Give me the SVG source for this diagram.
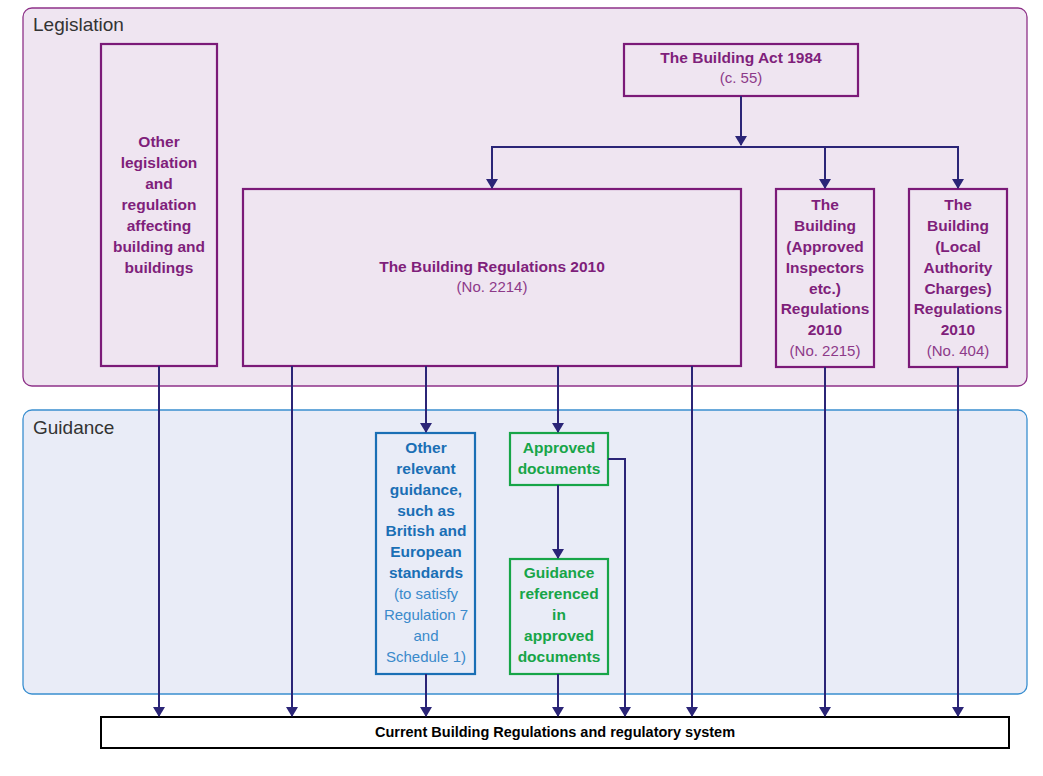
<svg xmlns="http://www.w3.org/2000/svg" width="1043" height="776" viewBox="0 0 1043 776">
<defs>
<marker id="ah" markerWidth="10" markerHeight="12" refX="9" refY="6" orient="auto" markerUnits="userSpaceOnUse"><path d="M0,0 L10,6 L0,12 Z" fill="#2b2577"/></marker>
<style>
text{font-family:"Liberation Sans",Arial,sans-serif;text-anchor:middle}
.p{fill:#7f1f7b;font-weight:bold;font-size:15.5px}
.pl{fill:#8d3a89;font-size:15px}
.pb{fill:none;stroke:#7b1a78;stroke-width:2.2}
.b{fill:#1a6fb5;font-weight:bold;font-size:15.5px}
.bl{fill:#3a8acb;font-size:15px}
.g{fill:#17a548;font-weight:bold;font-size:15.5px}
.c path{fill:none;stroke:#2b2577;stroke-width:2;marker-end:url(#ah)}
.t{font-size:19px;fill:#333;text-anchor:start}
</style>
</defs>
<rect width="1043" height="776" fill="#fff"/>
<g id="legislation"><rect x="23" y="8" width="1004" height="378" rx="9" fill="#efe5f1" stroke="#8e3289" stroke-width="1.3"/><text class="t" x="33" y="31">Legislation</text></g>
<g id="guidance"><rect x="23" y="410" width="1004" height="284" rx="9" fill="#e9ecf7" stroke="#3a8fd0" stroke-width="1.3"/><text class="t" x="33" y="434">Guidance</text></g>
<g id="act"><rect class="pb" x="624" y="44" width="234" height="52" fill="#efe5f1"/><text class="p" x="741" y="63">The Building Act 1984</text><text class="pl" x="741" y="83">(c. 55)</text></g>
<g id="other"><rect class="pb" x="101" y="44" width="116" height="322"/><text class="p" x="159" y="147">Other</text><text class="p" x="159" y="168">legislation</text><text class="p" x="159" y="189">and</text><text class="p" x="159" y="210">regulation</text><text class="p" x="159" y="231">affecting</text><text class="p" x="159" y="252">building and</text><text class="p" x="159" y="273">buildings</text></g>
<g id="regs"><rect class="pb" x="243" y="189" width="498" height="177"/><text class="p" x="492" y="272">The Building Regulations 2010</text><text class="pl" x="492" y="292">(No. 2214)</text></g>
<g id="ai"><rect class="pb" x="776" y="189" width="98" height="178"/><text class="p" x="825" y="210">The</text><text class="p" x="825" y="231">Building</text><text class="p" x="825" y="252">(Approved</text><text class="p" x="825" y="273">Inspectors</text><text class="p" x="825" y="294">etc.)</text><text class="p" x="825" y="314">Regulations</text><text class="p" x="825" y="335">2010</text><text class="pl" x="825" y="356">(No. 2215)</text></g>
<g id="la"><rect class="pb" x="909" y="189" width="98" height="178"/><text class="p" x="958" y="210">The</text><text class="p" x="958" y="231">Building</text><text class="p" x="958" y="252">(Local</text><text class="p" x="958" y="273">Authority</text><text class="p" x="958" y="294">Charges)</text><text class="p" x="958" y="314">Regulations</text><text class="p" x="958" y="335">2010</text><text class="pl" x="958" y="356">(No. 404)</text></g>
<g id="otherg"><rect x="376" y="433" width="99" height="241" fill="none" stroke="#1a6fb5" stroke-width="2.2"/><text class="b" x="426" y="453">Other</text><text class="b" x="426" y="474">relevant</text><text class="b" x="426" y="495">guidance,</text><text class="b" x="426" y="516">such as</text><text class="b" x="426" y="536">British and</text><text class="b" x="426" y="557">European</text><text class="b" x="426" y="578">standards</text><text class="bl" x="426" y="599">(to satisfy</text><text class="bl" x="426" y="620">Regulation 7</text><text class="bl" x="426" y="641">and</text><text class="bl" x="426" y="662">Schedule 1)</text></g>
<g id="ad"><rect x="510" y="433" width="98" height="52" fill="none" stroke="#17a548" stroke-width="2.2"/><text class="g" x="559" y="453">Approved</text><text class="g" x="559" y="474">documents</text></g>
<g id="gr"><rect x="510" y="559" width="98" height="115" fill="none" stroke="#17a548" stroke-width="2.2"/><text class="g" x="559" y="578">Guidance</text><text class="g" x="559" y="599">referenced</text><text class="g" x="559" y="620">in</text><text class="g" x="559" y="641">approved</text><text class="g" x="559" y="662">documents</text></g>
<g id="current"><rect x="101" y="717" width="908" height="31" fill="#fff" stroke="#000" stroke-width="2"/><text x="555" y="737" style="font-size:14.5px;font-weight:bold;fill:#000">Current Building Regulations and regulatory system</text></g>
<g class="c" id="connectors">
<path d="M741,96 V145"/>
<path d="M741,147 H492 V188"/>
<path d="M741,147 H825 V188"/>
<path d="M825,147 H958 V188"/>
<path d="M159,366 V716"/>
<path d="M292,366 V716"/>
<path d="M426,366 V432"/>
<path d="M558,366 V432"/>
<path d="M558,485 V558"/>
<path d="M426,674 V716"/>
<path d="M558,674 V716"/>
<path d="M608,459 H625 V716"/>
<path d="M692,366 V716"/>
<path d="M825,367 V716"/>
<path d="M958,367 V716"/>
</g>
</svg>
